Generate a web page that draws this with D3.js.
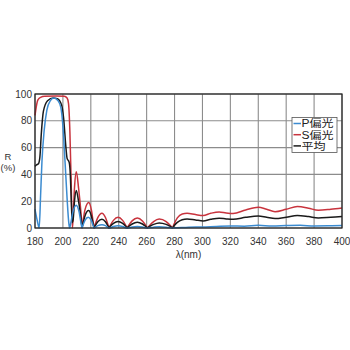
<!DOCTYPE html>
<html>
<head>
<meta charset="utf-8">
<script src="https://cdn.jsdelivr.net/npm/d3@7"></script>
<style>
  body { margin: 0; background: #fff; }
  svg { display: block; font-family: "Liberation Sans", Arial, sans-serif; }
</style>
</head>
<body>
<div id="vis"></div>
<script>
var width = 350,
	height = 350;

var margin = {left: 35, right: 8, top: 94, bottom: 122};

// wavelength (nm) and reflectance (%)
var redPts = [[180, 84], [181, 91], [182, 95.5], [184, 97.5], [187, 98.3], [195, 98.5], [201, 98.3], [203, 97], [204, 93],
	[205, 72], [206, 30], [206.8, 0],
	[207.3, 8], [208.3, 30], [209.6, 42], [211.2, 30], [213.2, 8], [213.7, 0],
	[214.2, 3.5], [215.8, 13.5], [218.5, 19], [220.4, 13.5], [221.8, 3.5], [222.3, 0],
	[222.9, 2], [225, 7.8], [228, 11], [230.5, 7.8], [232.4, 2], [233, 0],
	[233.7, 1.5], [236.2, 5.7], [239.5, 8], [242.8, 5.7], [245.3, 1.5], [246, 0],
	[246.8, 1.4], [249.6, 5.3], [253.3, 7.5], [257, 5.3], [259.7, 1.4], [260.5, 0],
	[261.5, 1.2], [265, 4.8], [269, 6.7], [274, 4.8], [277.5, 1.2], [278.5, 0],
	[279.5, 2.5], [282, 7.5], [285.5, 10.5], [289, 11], [295, 10], [300.5, 9.3], [306, 11], [312, 12], [317, 11.2],
	[322, 10.8], [331, 13.5], [340, 15.5], [346, 14], [352, 12.2], [360, 14], [368, 16], [376, 14.8], [383, 13.2],
	[392, 14], [400, 15]];

var blackPts = [[180, 46], [181, 47], [182.5, 48], [183.5, 53], [184.5, 70], [186, 87], [189, 95], [193, 97], [196, 96.5],
	[199, 92], [200.5, 82], [202, 62], [203, 52], [204.5, 49], [205.3, 40], [206, 20], [206.7, 4],
	[207.3, 6], [208.3, 20], [209.6, 28], [211.2, 20], [213.2, 5], [213.7, 0.5],
	[214.2, 2.5], [215.8, 9], [218.4, 13], [220.4, 9], [221.8, 2.5], [222.3, 0.3],
	[222.9, 1.3], [225, 4.6], [228, 6.5], [230.5, 4.6], [232.4, 1.3], [233, 0.2],
	[233.7, 1], [236.2, 3.4], [239.5, 4.8], [242.8, 3.4], [245.3, 1], [246, 0.2],
	[246.8, 0.9], [249.6, 3], [253.3, 4.3], [257, 3], [259.7, 0.9], [260.5, 0.2],
	[261.5, 0.8], [265, 2.7], [269, 3.8], [274, 2.7], [277.5, 0.8], [278.5, 0.2],
	[279.5, 1.5], [282, 4.2], [285.5, 6.2], [289, 6.8], [295, 6], [300.5, 5.3], [306, 6.5], [312, 7.3], [317, 6.8],
	[322, 6.5], [331, 8], [340, 9], [346, 8], [352, 7], [360, 8], [368, 9.3], [376, 8.5], [383, 7.5], [392, 8],
	[400, 8.5]];

var bluePts = [[180, 14], [181.5, 6], [183, 0], [184, 24], [185, 50], [186.5, 72], [188.5, 88], [191, 95], [193.5, 97],
	[196.5, 95], [198.5, 90], [200, 76], [201.5, 50], [203, 22], [204.2, 4], [204.8, 0],
	[205.5, 3], [207.2, 12], [209.5, 17], [211.6, 12], [213.1, 3], [213.7, 0],
	[214.2, 1.5], [215.8, 5.7], [218.2, 8], [220.3, 5.7], [221.8, 1.5], [222.3, 0],
	[225, 1.8], [228, 2.5], [230.5, 1.8], [233, 0],
	[236.2, 1.1], [239.5, 1.6], [242.8, 1.1], [246, 0],
	[249.6, 0.8], [253.3, 1.1], [257, 0.8], [260.5, 0],
	[265, 0.6], [269, 0.9], [274, 0.6], [278.5, 0],
	[290, 0.6], [300, 0.8], [310, 1.2], [320, 1.5], [330, 1.3], [340, 2], [350, 1.5], [360, 1.8], [370, 2],
	[380, 1.5], [390, 1.6], [400, 1.8]];

var xTicks = [180, 200, 220, 240, 260, 280, 300, 320, 340, 360, 380, 400];
var yTicks = [0, 20, 40, 60, 80, 100];

var legendNames = ["P偏光", "S偏光", "平均"];
var legendColors = ["#3b8bd0", "#c8333d", "#1a1a1a"];

var x = d3.scaleLinear().domain([180, 400]).range([margin.left, width - margin.right]),
	y = d3.scaleLinear().domain([0, 100]).range([height - margin.bottom, margin.top]);

var svg = d3.select('#vis')
	.append('svg')
	.attr('width', width)
	.attr('height', height);

// grid
svg.append('g')
	.selectAll('line')
	.data(xTicks)
	.enter()
	.append('line')
	.attr('x1', function(d) { return x(d); })
	.attr('x2', function(d) { return x(d); })
	.attr('y1', y(0))
	.attr('y2', y(100))
	.style('stroke', '#8c8c8c')
	.style('stroke-width', 1.1);

svg.append('g')
	.selectAll('line')
	.data(yTicks)
	.enter()
	.append('line')
	.attr('x1', x(180))
	.attr('x2', x(400))
	.attr('y1', function(d) { return y(d); })
	.attr('y2', function(d) { return y(d); })
	.style('stroke', '#8c8c8c')
	.style('stroke-width', 1.1);

// curves, drawn red, black, blue (blue on top)
var line = d3.line()
	.x(function(d) { return x(d[0]); })
	.y(function(d) { return y(d[1]); })
	.curve(d3.curveMonotoneX);

var curves = [
	{pts: redPts, color: legendColors[1]},
	{pts: blackPts, color: legendColors[2]},
	{pts: bluePts, color: legendColors[0]}
];

svg.append('g')
	.selectAll('path')
	.data(curves)
	.enter()
	.append('path')
	.attr('d', function(d) { return line(d.pts); })
	.style('fill', 'none')
	.style('stroke', function(d) { return d.color; })
	.style('stroke-width', 1.5);

// frame
svg.append('rect')
	.attr('x', x(180))
	.attr('y', y(100))
	.attr('width', x(400) - x(180))
	.attr('height', y(0) - y(100))
	.style('fill', 'none')
	.style('stroke', '#222')
	.style('stroke-width', 1.2);

// tick labels
svg.append('g')
	.selectAll('text')
	.data(yTicks)
	.enter()
	.append('text')
	.attr('x', 32)
	.attr('y', function(d) { return y(d) + 3.5; })
	.attr('text-anchor', 'end')
	.style('font-size', '10px')
	.style('fill', '#333')
	.text(function(d) { return d; });

svg.append('g')
	.selectAll('text')
	.data(xTicks)
	.enter()
	.append('text')
	.attr('x', function(d) { return x(d); })
	.attr('y', 245)
	.attr('text-anchor', 'middle')
	.style('font-size', '10px')
	.style('fill', '#333')
	.text(function(d) { return d; });

svg.append('text')
	.attr('x', 8)
	.attr('y', 160)
	.attr('text-anchor', 'middle')
	.style('font-size', '9.5px')
	.style('fill', '#333')
	.text('R');

svg.append('text')
	.attr('x', 8)
	.attr('y', 171)
	.attr('text-anchor', 'middle')
	.style('font-size', '9.5px')
	.style('fill', '#333')
	.text('(%)');

svg.append('text')
	.attr('x', (x(180) + x(400)) / 2)
	.attr('y', 258)
	.attr('text-anchor', 'middle')
	.style('font-size', '10px')
	.style('fill', '#333')
	.text('λ(nm)');

// legend
var legend = svg.append('g');

legend.append('rect')
	.attr('x', 292)
	.attr('y', 117.5)
	.attr('width', 45)
	.attr('height', 35)
	.style('fill', '#fff')
	.style('stroke', '#555')
	.style('stroke-width', 0.8);

var items = legend.selectAll('g')
	.data(legendNames)
	.enter()
	.append('g')
	.attr('transform', function(d, i) { return 'translate(0,' + (123.5 + i * 11.2) + ')'; });

items.append('line')
	.attr('x1', 293.5)
	.attr('x2', 301)
	.style('stroke', function(d, i) { return legendColors[i]; })
	.style('stroke-width', 1.5);

items.append('text')
	.attr('x', 301.5)
	.attr('y', 3.8)
	.attr('textLength', function(d) { return d.length == 3 ? 32 : 24; })
	.attr('lengthAdjust', 'spacingAndGlyphs')
	.style('font-family', '"Liberation Sans", "Noto Sans CJK JP", sans-serif')
	.style('font-size', '10px')
	.style('fill', '#222')
	.text(function(d) { return d; });
</script>
</body>
</html>
